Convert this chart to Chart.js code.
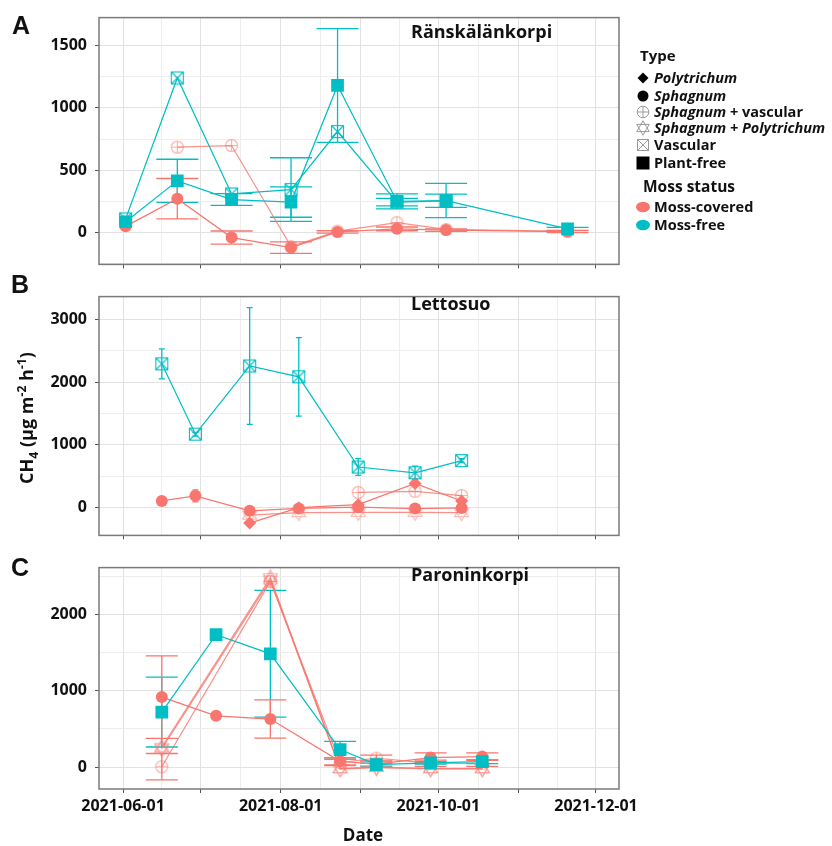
<!DOCTYPE html>
<html><head><meta charset="utf-8">
<script src="https://cdn.jsdelivr.net/npm/chart.js@4.4.1/dist/chart.umd.min.js"></script>
<style>
html,body{margin:0;padding:0;background:#fff;}
body{width:832px;height:846px;position:relative;overflow:hidden;font-family:'Open Sans',sans-serif;color:#111;}
canvas{position:absolute;left:0;}
.t{position:absolute;font-weight:700;white-space:nowrap;line-height:1;}
.lg{position:absolute;left:635px;display:flex;align-items:center;height:18px;font-size:14.5px;font-weight:700;white-space:nowrap;line-height:1;}
.lg svg{width:16px;height:16px;margin-right:3px;flex:none;}
sub,sup{font-size:68%;line-height:0;}
</style></head><body>
<canvas id="cA" width="832" height="282" style="top:0px"></canvas>
<canvas id="cB" width="832" height="274" style="top:279px"></canvas>
<canvas id="cC" width="832" height="296" style="top:550px"></canvas>

<div class="t" style="left:12px;top:13px;font-family:'Liberation Sans',Arial,sans-serif;font-size:25px">A</div>
<div class="t" style="left:11px;top:272px;font-family:'Liberation Sans',Arial,sans-serif;font-size:25px">B</div>
<div class="t" style="left:11px;top:555px;font-family:'Liberation Sans',Arial,sans-serif;font-size:25px">C</div>

<div class="t" style="left:411px;top:22px;font-size:18px">Ränskälänkorpi</div>
<div class="t" style="left:411px;top:294px;font-size:18px">Lettosuo</div>
<div class="t" style="left:411px;top:565px;font-size:18px">Paroninkorpi</div>

<div class="t" style="left:26px;top:418px;transform:translate(-50%,-50%) rotate(-90deg);font-size:18px">CH<sub>4</sub> (µg m<sup>-2</sup> h<sup>-1</sup>)</div>
<div class="t" style="left:363px;top:834px;transform:translate(-50%,-50%);font-size:17px">Date</div>

<div class="t" style="left:640px;top:48px;font-size:15px">Type</div>
<div class="lg" style="top:69px"><svg viewBox="0 0 16 16"><polygon points="8,2.5 13.5,8 8,13.5 2.5,8" fill="#000"/></svg><i>Polytrichum</i></div>
<div class="lg" style="top:87px"><svg viewBox="0 0 16 16"><circle cx="8" cy="8" r="5.5" fill="#000"/></svg><i>Sphagnum</i></div>
<div class="lg" style="top:103px"><svg viewBox="0 0 16 16"><circle cx="8" cy="8" r="5.8" fill="none" stroke="#999" stroke-width="1"/><path d="M2.2 8H13.8M8 2.2V13.8" stroke="#999" stroke-width="1"/></svg><span><i>Sphagnum</i> + vascular</span></div>
<div class="lg" style="top:119px"><svg viewBox="0 0 16 16"><polygon points="8,0.8 14.3,11.6 1.7,11.6" fill="none" stroke="#999" stroke-width="1"/><polygon points="8,15.2 14.3,4.4 1.7,4.4" fill="none" stroke="#999" stroke-width="1"/></svg><i>Sphagnum + Polytrichum</i></div>
<div class="lg" style="top:136px"><svg viewBox="0 0 16 16"><rect x="2.5" y="2.5" width="11" height="11" fill="none" stroke="#999" stroke-width="1"/><path d="M2.5 2.5L13.5 13.5M13.5 2.5L2.5 13.5" stroke="#999" stroke-width="1"/></svg>Vascular</div>
<div class="lg" style="top:154px"><svg viewBox="0 0 16 16"><rect x="1.5" y="1.5" width="13" height="13" fill="#000"/></svg>Plant-free</div>
<div class="t" style="left:643px;top:179px;font-size:15.5px">Moss status</div>
<div class="lg" style="top:198px"><svg viewBox="0 0 16 16"><ellipse cx="8" cy="8" rx="7" ry="5.2" fill="#F8766D"/></svg>Moss-covered</div>
<div class="lg" style="top:216px"><svg viewBox="0 0 16 16"><ellipse cx="8" cy="8" rx="7" ry="5.2" fill="#00BFC4"/></svg>Moss-free</div>

<script>
// ---------- DATA ----------
const monthStarts = ['2021-06-01','2021-07-01','2021-08-01','2021-09-01','2021-10-01','2021-11-01','2021-12-01'];
const labeledMonths = ['2021-06-01','2021-08-01','2021-10-01','2021-12-01'];

// Panel A: Ränskälänkorpi
const datesA = ['2021-06-02','2021-06-22','2021-07-13','2021-08-05','2021-08-23','2021-09-15','2021-10-04','2021-11-20'];
const plantFreeA    = [87, 415, 265, 245, 1180, 250, 257, 30];
const plantFreeErrA = [0, 173, 47, 122, 456, 60, 137, 12];
const vascularA     = [110, 1240, 310, 345, 810, 245, 255, null];
const vascularErrA  = [0, 0, 0, 255, 0, 30, 53, 0];
const sphagnumA     = [50, 272, -40, -120, 5, 30, 20, 8];
const sphagnumErrA  = [0, 162, 53, 46, 10, 15, 10, 8];
const sphVascA      = [null, 685, 698, -112, 12, 80, 25, 10];

// Panel B: Lettosuo
const datesB = ['2021-06-16','2021-06-29','2021-07-20','2021-08-08','2021-08-31','2021-09-22','2021-10-10'];
const vascularB     = [2290, 1170, 2256, 2084, 647, 555, 749];
const vascularErrB  = [240, 30, 930, 625, 133, 105, 30];
const sphagnumB     = [106, 188, -50, -12, 8, -15, -5];
const sphagnumErrB  = [0, 95, 30, 20, 20, 20, 20];
const polytrichumB  = [null, null, -246, 0, 48, 386, 106];
const sphVascB      = [null, null, null, null, 242, 261, 193];
const sphPolyB      = [null, null, -120, -80, -75, -75, -80];

// Panel C: Paroninkorpi
const datesC = ['2021-06-16','2021-07-07','2021-07-28','2021-08-24','2021-09-07','2021-09-28','2021-10-18'];
const plantFreeC    = [721, 1733, 1483, 229, 33, 55, 70];
const plantFreeErrC = [458, 0, 830, 108, 20, 15, 25];
const sphagnumC     = [917, 671, 629, 75, 40, 125, 137];
const sphagnumErrC  = [540, 0, 250, 45, 40, 60, 50];
const sphVascC      = [5, null, 2430, 60, 117, 50, 50];
const sphVascErrC   = [173, 0, 0, 40, 40, 40, 40];
const sphPolyC      = [260, null, 2480, -25, -8, -25, -25];
const sphPolyC2     = [240, null, 2450, -20, 0, -20, -20];

// ---------- STYLE ----------
const PINK = '#F8766D', CYAN = '#00BFC4';
const GRID_MAJ = '#e2e2e2', GRID_MIN = '#eeeeee';
const DAY = 86400000;
const dn = s => Date.parse(s + 'T00:00:00Z') / DAY;
const X_MIN = dn('2021-06-01') - 9.3, X_MAX = dn('2021-12-01') + 8.9;
const majorX = new Set(monthStarts.map(dn));
const labelX = new Map(labeledMonths.map(m => [dn(m), m]));

function img(size, draw){ const c=document.createElement('canvas'); c.width=size; c.height=size; const g=c.getContext('2d'); draw(g,size); return c; }
function hexRgba(h,a){ const n=parseInt(h.slice(1),16); return `rgba(${n>>16},${(n>>8)&255},${n&255},${a})`; }
const markVasc = col => img(15,(g)=>{ g.strokeStyle=col; g.lineWidth=1.1; g.strokeRect(1.5,1.5,12,12); g.beginPath(); g.moveTo(1.5,1.5); g.lineTo(13.5,13.5); g.moveTo(13.5,1.5); g.lineTo(1.5,13.5); g.stroke(); });
const markSphVasc = col => img(15,(g)=>{ g.strokeStyle=hexRgba(col,0.6); g.lineWidth=1.1; g.beginPath(); g.arc(7.5,7.5,6,0,Math.PI*2); g.moveTo(1.5,7.5); g.lineTo(13.5,7.5); g.moveTo(7.5,1.5); g.lineTo(7.5,13.5); g.stroke(); });
const markSphPoly = col => img(19,(g)=>{ g.strokeStyle=hexRgba(col,0.55); g.lineWidth=1.1; const c=9.5,R=8,k=0.866;
  g.beginPath(); g.moveTo(c,c-R); g.lineTo(c+k*R,c+R/2); g.lineTo(c-k*R,c+R/2); g.closePath();
  g.moveTo(c,c+R); g.lineTo(c+k*R,c-R/2); g.lineTo(c-k*R,c-R/2); g.closePath(); g.stroke(); });

const KIND = {
  plantFree:  {ps:()=> 'rect', r:9, fill:true, lineA:1},
  vascular:   {ps:markVasc, r:7, fill:false, lineA:1},
  sphagnum:   {ps:()=> 'circle', r:6, fill:true, lineA:1},
  poly:       {ps:()=> 'rectRot', r:6.5, fill:true, lineA:1},
  sphVasc:    {ps:markSphVasc, r:7, fill:false, lineA:0.8},
  sphPoly:    {ps:markSphPoly, r:8, fill:false, lineA:0.8},
};

function ser(dates, vals, err, kind, col){
  const k = KIND[kind];
  return {
    data: dates.map((d,i)=>({x:dn(d), y:vals[i]})),
    err: err, errColor: col,
    borderColor: hexRgba(col, k.lineA), borderWidth: 1.25,
    pointStyle: k.ps(col), pointRadius: k.r, pointHoverRadius: k.r,
    pointBackgroundColor: k.fill ? col : 'rgba(0,0,0,0)',
    pointBorderColor: col, pointBorderWidth: 0,
    spanGaps: true, tension: 0, fill: false
  };
}

function makeChart(id, o){
  const yTicks = [];
  for (let v = Math.ceil(o.yMin/o.yStep)*o.yStep; v <= o.yMax; v += o.yStep) yTicks.push(v);
  const xTicks = [];
  monthStarts.forEach((m,i)=>{ xTicks.push(dn(m)); if (i < monthStarts.length-1) xTicks.push((dn(m)+dn(monthStarts[i+1]))/2); });
  const isMajY = v => Math.abs(v % o.yMajor) < 1e-9;
  const plug = {
    id: 'errframe'+id,
    beforeDatasetsDraw(chart){
      const ctx = chart.ctx, xs = chart.scales.x, ys = chart.scales.y;
      chart.data.datasets.forEach(ds=>{
        if (!ds.err) return;
        ctx.save(); ctx.strokeStyle = ds.errColor; ctx.lineWidth = 1.3;
        ds.data.forEach((p,i)=>{
          const e = ds.err[i]; if (p.y == null || !e) return;
          const x = xs.getPixelForValue(p.x), y1 = ys.getPixelForValue(p.y - e), y2 = ys.getPixelForValue(p.y + e);
          ctx.beginPath();
          ctx.moveTo(x, y1); ctx.lineTo(x, y2);
          ctx.moveTo(x - o.cap/2, y1); ctx.lineTo(x + o.cap/2, y1);
          ctx.moveTo(x - o.cap/2, y2); ctx.lineTo(x + o.cap/2, y2);
          ctx.stroke();
        });
        ctx.restore();
      });
    },
    afterDraw(chart){
      const a = chart.chartArea, ctx = chart.ctx;
      ctx.save(); ctx.strokeStyle = '#7a7a7a'; ctx.lineWidth = 1.5;
      ctx.strokeRect(a.left, a.top, a.right - a.left, a.bottom - a.top);
      ctx.restore();
    }
  };
  return new Chart(document.getElementById(id), {
    type: 'line',
    data: { datasets: o.series },
    plugins: [plug],
    options: {
      responsive: false, animation: false, devicePixelRatio: window.devicePixelRatio || 1,
      layout: { padding: { top: o.padTop, right: 213, left: 0, bottom: 0 } },
      plugins: { legend: {display:false}, tooltip: {enabled:false} },
      scales: {
        x: {
          type: 'linear', min: X_MIN, max: X_MAX,
          afterBuildTicks: s => { s.ticks = xTicks.map(v => ({value:v})); },
          afterFit: s => { s.height = o.xH; },
          border: {display:false},
          grid: {
            color: c => (c.tick && !majorX.has(c.tick.value)) ? GRID_MIN : GRID_MAJ,
            lineWidth: 1, drawTicks: true, tickLength: 4,
            tickColor: c => (c.tick && majorX.has(c.tick.value)) ? '#555' : 'rgba(0,0,0,0)'
          },
          ticks: {
            display: o.showX, autoSkip: false, maxRotation: 0, minRotation: 0, padding: 4,
            color: '#111', font: {family:'Open Sans', weight:'bold', size:16},
            callback: v => labelX.get(v) || ''
          }
        },
        y: {
          min: o.yMin, max: o.yMax,
          afterBuildTicks: s => { s.ticks = yTicks.map(v => ({value:v})); },
          afterFit: s => { s.width = 99; },
          border: {display:false},
          grid: {
            color: c => (c.tick && !isMajY(c.tick.value)) ? GRID_MIN : GRID_MAJ,
            lineWidth: 1, drawTicks: true, tickLength: 4,
            tickColor: c => (c.tick && isMajY(c.tick.value)) ? '#555' : 'rgba(0,0,0,0)'
          },
          ticks: {
            autoSkip: false, padding: 8, color: '#111',
            font: {family:'Open Sans', weight:'bold', size:16},
            callback: v => isMajY(v) ? String(v) : ''
          }
        }
      }
    }
  });
}

makeChart('cA', {
  yMin: -255, yMax: 1724, yStep: 250, yMajor: 500, padTop: 13, xH: 5, showX: false, cap: 42,
  series: [
    ser(datesA, plantFreeA, plantFreeErrA, 'plantFree', CYAN),
    ser(datesA, vascularA, vascularErrA, 'vascular', CYAN),
    ser(datesA, sphagnumA, sphagnumErrA, 'sphagnum', PINK),
    ser(datesA, sphVascA, null, 'sphVasc', PINK),
  ]
});
makeChart('cB', {
  yMin: -442, yMax: 3361, yStep: 500, yMajor: 1000, padTop: 5, xH: 5, showX: false, cap: 6,
  series: [
    ser(datesB, vascularB, vascularErrB, 'vascular', CYAN),
    ser(datesB, polytrichumB, null, 'poly', PINK),
    ser(datesB, sphagnumB, sphagnumErrB, 'sphagnum', PINK),
    ser(datesB, sphVascB, null, 'sphVasc', PINK),
    ser(datesB, sphPolyB, null, 'sphPoly', PINK),
  ]
});
makeChart('cC', {
  yMin: -287, yMax: 2612, yStep: 500, yMajor: 1000, padTop: 7, xH: 57, showX: true, cap: 32,
  series: [
    ser(datesC, plantFreeC, plantFreeErrC, 'plantFree', CYAN),
    ser(datesC, sphagnumC, sphagnumErrC, 'sphagnum', PINK),
    ser(datesC, sphVascC, sphVascErrC, 'sphVasc', PINK),
    ser(datesC, sphPolyC, null, 'sphPoly', PINK),
    ser(datesC, sphPolyC2, null, 'sphPoly', PINK),
  ]
});
</script>
</body></html>
